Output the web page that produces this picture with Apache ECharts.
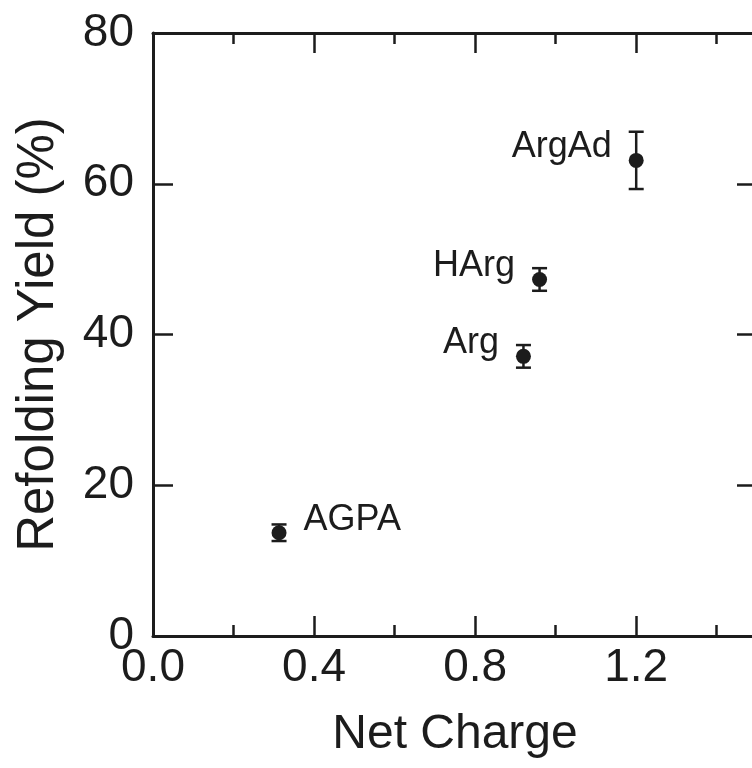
<!DOCTYPE html>
<html>
<head>
<meta charset="utf-8">
<script src="https://cdn.jsdelivr.net/npm/echarts@6/dist/echarts.min.js"></script>
<style>
html,body{margin:0;padding:0;background:#fff;}
#chart{width:752px;height:768px;}
</style>
</head>
<body>
<div id="chart"></div>
<script>
// Data
const names = ['AGPA', 'Arg', 'HArg', 'ArgAd'];
const netCharge = [0.313, 0.920, 0.960, 1.200];
const refoldingYield = [13.7, 37.1, 47.3, 63.1];
const yieldError = [1.1, 1.5, 1.5, 3.8];

const xTitle = 'Net Charge';
const yTitle = 'Refolding Yield (%)';

const FONT = '"Liberation Sans", Arial, Helvetica, sans-serif';
const INK = '#1c1c1c';

const chart = echarts.init(document.getElementById('chart'), null, {renderer: 'canvas'});

function axisLineStyle() { return {show: true, onZero: false, lineStyle: {color: INK, width: 3}}; }
function noLine() { return {show: false, onZero: false}; }
function majorTick() { return {show: true, inside: true, length: 20, lineStyle: {color: INK, width: 2.5}}; }
function minorTick() { return {show: true, inside: true, length: 11, lineStyle: {color: INK, width: 2.5}}; }

function xAx(extra) {
  return Object.assign({
    type: 'value', min: 0, max: 1.5,
    splitLine: {show: false},
    axisLine: noLine(),
    axisLabel: {show: false},
    axisTick: {show: false}
  }, extra);
}

const option = {
  animation: false,
  backgroundColor: '#ffffff',
  grid: {left: 153, width: 604, top: 33, height: 603, containLabel: false, outerBoundsMode: 'none'},
  xAxis: [
    xAx({
      position: 'bottom', interval: 0.4,
      axisLine: axisLineStyle(),
      axisTick: majorTick(),
      axisLabel: {
        show: true, fontSize: 46, color: INK, fontFamily: FONT, margin: 9,
        showMaxLabel: false,
        formatter: v => v.toFixed(1)
      },
      name: xTitle, nameLocation: 'middle', nameGap: 75,
      nameTextStyle: {fontSize: 48, color: INK, fontFamily: FONT}
    }),
    xAx({position: 'bottom', interval: 0.2, axisTick: minorTick()}),
    xAx({position: 'top', interval: 0.4, axisLine: axisLineStyle(), axisTick: majorTick()}),
    xAx({position: 'top', interval: 0.2, axisTick: minorTick()})
  ],
  yAxis: [
    {
      type: 'value', min: 0, max: 80, interval: 20, position: 'left',
      splitLine: {show: false},
      axisLine: axisLineStyle(),
      axisTick: majorTick(),
      axisLabel: {show: true, fontSize: 46, color: INK, fontFamily: FONT, margin: 19},
      name: yTitle, nameLocation: 'middle', nameGap: 89,
      nameTextStyle: {fontSize: 51, color: INK, fontFamily: FONT}
    },
    {
      type: 'value', min: 0, max: 80, interval: 20, position: 'right',
      splitLine: {show: false},
      axisLine: axisLineStyle(),
      axisTick: majorTick(),
      axisLabel: {show: false}
    }
  ],
  series: [
    {
      type: 'custom',
      xAxisIndex: 0, yAxisIndex: 0,
      z: 2,
      renderItem: function (params, api) {
        const x = api.value(0);
        const lo = api.value(1);
        const hi = api.value(2);
        const pTop = api.coord([x, hi]);
        const pBot = api.coord([x, lo]);
        const hw = 7.5;
        const style = {stroke: INK, lineWidth: 2.5};
        return {
          type: 'group',
          children: [
            {type: 'line', shape: {x1: pTop[0], y1: pTop[1], x2: pBot[0], y2: pBot[1]}, style: style},
            {type: 'line', shape: {x1: pTop[0] - hw, y1: pTop[1], x2: pTop[0] + hw, y2: pTop[1]}, style: style},
            {type: 'line', shape: {x1: pBot[0] - hw, y1: pBot[1], x2: pBot[0] + hw, y2: pBot[1]}, style: style}
          ]
        };
      },
      data: netCharge.map((x, i) => [x, refoldingYield[i] - yieldError[i], refoldingYield[i] + yieldError[i]])
    },
    {
      type: 'scatter',
      xAxisIndex: 0, yAxisIndex: 0,
      z: 3,
      symbol: 'circle',
      symbolSize: 15,
      itemStyle: {color: INK, opacity: 1},
      label: {
        show: true, formatter: '{b}', position: 'left', distance: 17,
        offset: [0, -13], fontSize: 36, color: INK, fontFamily: FONT
      },
      data: netCharge.map((x, i) => {
        const item = {name: names[i], value: [x, refoldingYield[i]]};
        if (names[i] === 'AGPA') item.label = {position: 'right'};
        return item;
      })
    }
  ]
};

chart.setOption(option);
</script>
</body>
</html>
